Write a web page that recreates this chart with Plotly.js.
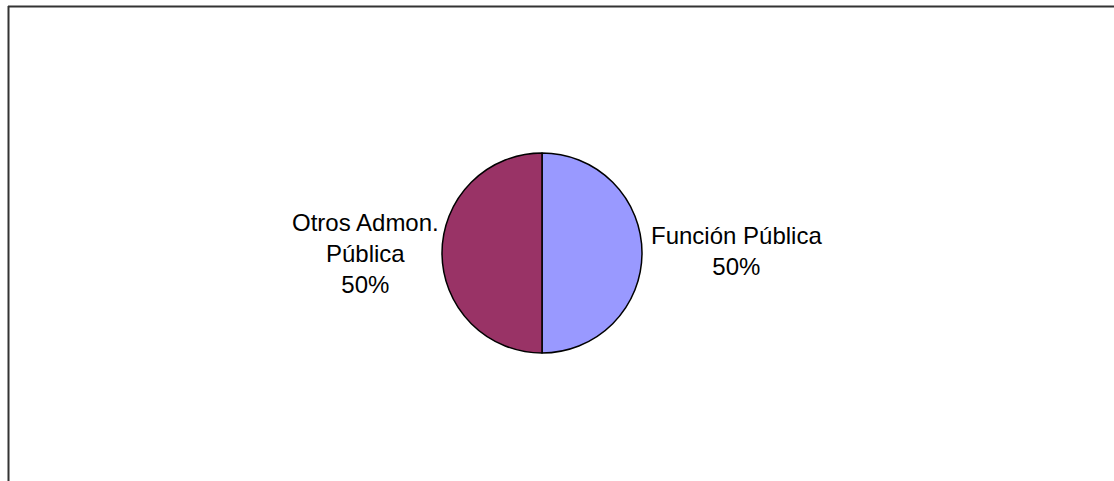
<!DOCTYPE html>
<html>
<head>
<meta charset="utf-8">
<script src="https://cdn.plot.ly/plotly-3.0.1.min.js"></script>
<style>
  html, body { margin: 0; padding: 0; background: #ffffff; }
  #chart { width: 1114px; height: 481px; }
</style>
</head>
<body>
<div id="chart"></div>
<script>
// Data
const labels = ["Función Pública", "Otros Admon. Pública"];
const labelText = ["Función Pública", "Otros Admon.<br>Pública"];
const values = [50, 50];
const colors = ["#9999FF", "#993366"];

const W = 1114, H = 481;
const total = values.reduce((a, b) => a + b, 0);
const pct = values.map(v => Math.round(v / total * 100) + "%");

const trace = {
  type: "pie",
  labels: labels,
  values: values,
  sort: false,
  direction: "clockwise",
  rotation: 0,
  textinfo: "none",
  hoverinfo: "label+percent",
  marker: { colors: colors, line: { color: "#000000", width: 1.5 } },
  domain: { x: [442 / W, 642 / W], y: [128 / H, 328 / H] },
  showlegend: false
};

const font = { family: "Liberation Sans, Arial, sans-serif", size: 24, color: "#000000" };

const layout = {
  width: W, height: H,
  margin: { l: 0, r: 0, t: 0, b: 0 },
  paper_bgcolor: "#ffffff",
  plot_bgcolor: "#ffffff",
  showlegend: false,
  shapes: [
    { type: "line", xref: "paper", yref: "paper", x0: 8 / W, x1: 1, y0: 1 - 6.5 / H, y1: 1 - 6.5 / H,
      line: { color: "#333333", width: 2 } },
    { type: "line", xref: "paper", yref: "paper", x0: 8.5 / W, x1: 8.5 / W, y0: 1 - 6 / H, y1: 0,
      line: { color: "#333333", width: 2 } }
  ],
  annotations: [
    { xref: "paper", yref: "paper", x: 649 / W, y: 1 - 251 / H, xanchor: "left", yanchor: "middle",
      text: labelText[0] + "<br>" + pct[0], showarrow: false, align: "center", font: font },
    { xref: "paper", yref: "paper", x: 441 / W, y: 1 - 253 / H, xanchor: "right", yanchor: "middle",
      text: labelText[1] + "<br>" + pct[1], showarrow: false, align: "center", font: font }
  ]
};

Plotly.newPlot("chart", [trace], layout, { displayModeBar: false, staticPlot: true });
</script>
</body>
</html>
